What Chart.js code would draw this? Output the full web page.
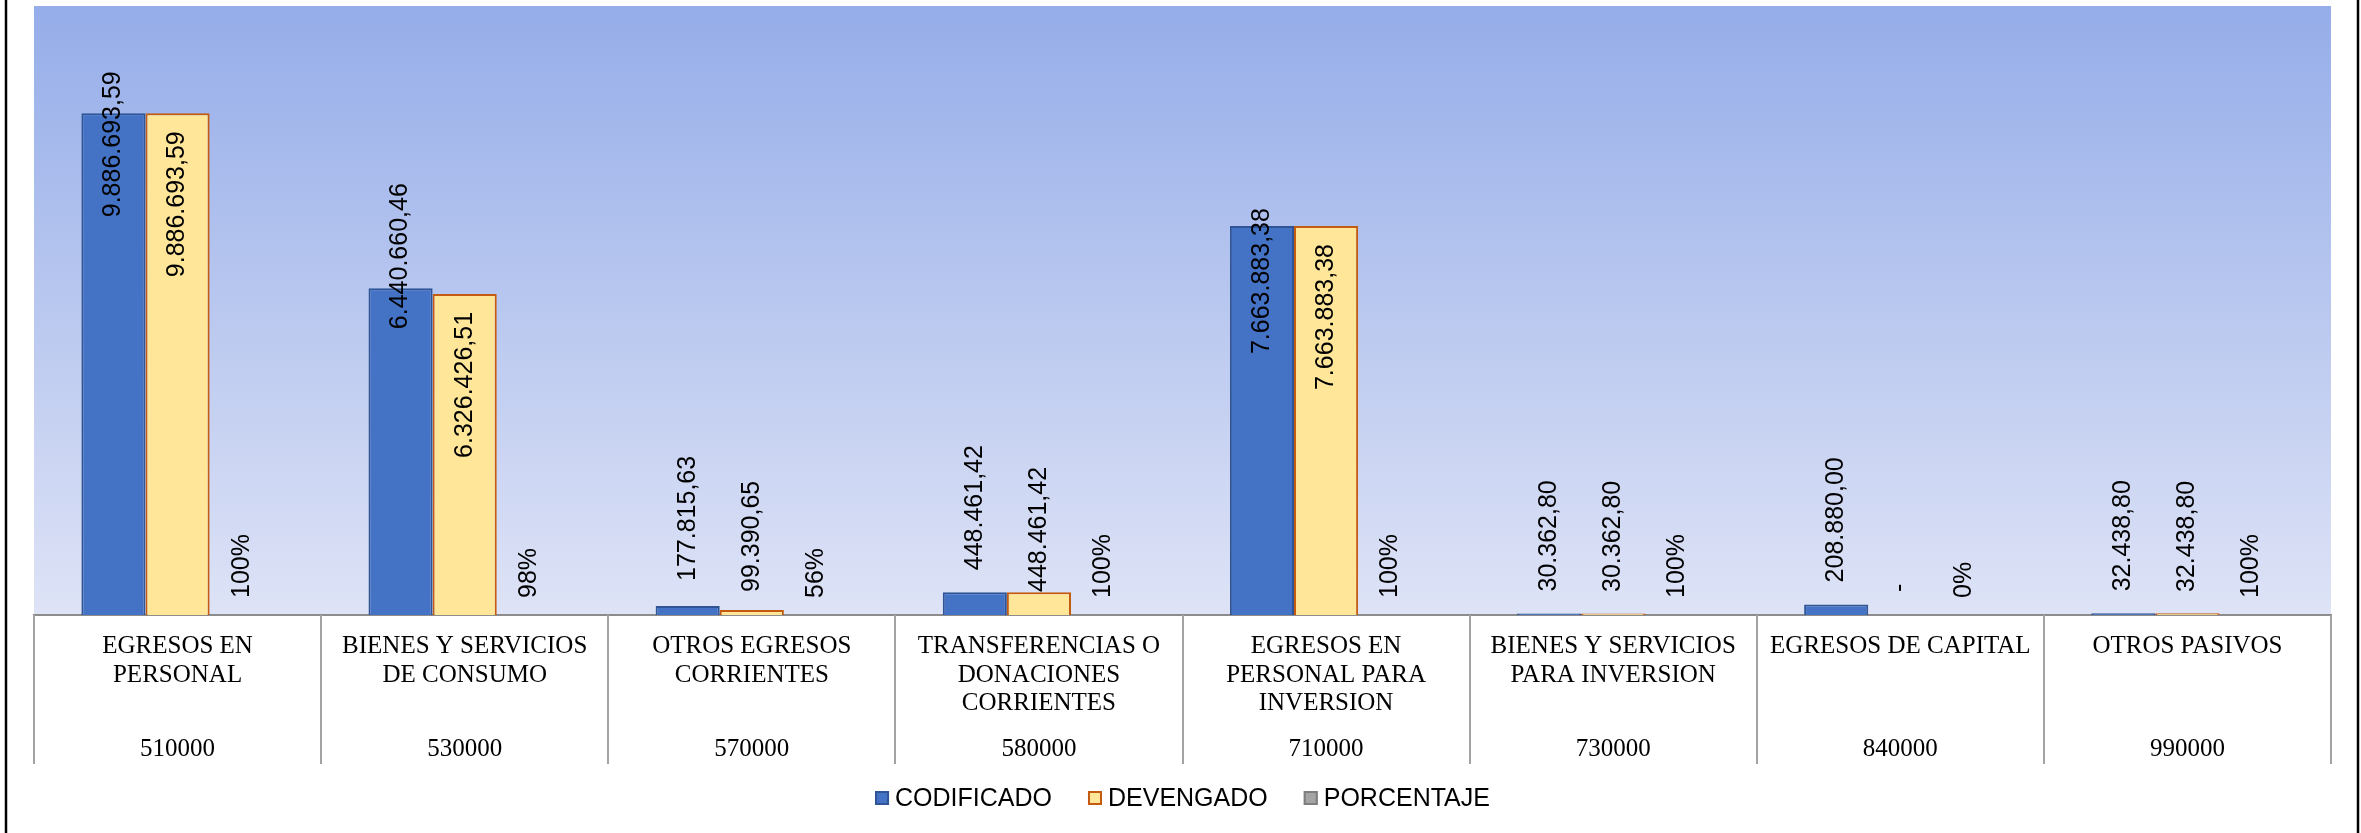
<!DOCTYPE html>
<html>
<head>
<meta charset="utf-8">
<script src="https://cdn.jsdelivr.net/npm/chart.js@4.4.1/dist/chart.umd.min.js"></script>
<style>
  html, body { margin: 0; padding: 0; background: #ffffff; }
  #wrap { width: 2361px; height: 833px; position: relative; }
</style>
</head>
<body>
<div id="wrap"><canvas id="c" width="2361" height="833"></canvas></div>
<script>
// ---- DATA ----
const categories = [
  ['EGRESOS EN', 'PERSONAL'],
  ['BIENES Y SERVICIOS', 'DE CONSUMO'],
  ['OTROS EGRESOS', 'CORRIENTES'],
  ['TRANSFERENCIAS O', 'DONACIONES', 'CORRIENTES'],
  ['EGRESOS EN', 'PERSONAL PARA', 'INVERSION'],
  ['BIENES Y SERVICIOS', 'PARA INVERSION'],
  ['EGRESOS DE CAPITAL'],
  ['OTROS PASIVOS']
];
const codes = ['510000', '530000', '570000', '580000', '710000', '730000', '840000', '990000'];
const seriesNames = ['CODIFICADO', 'DEVENGADO', 'PORCENTAJE'];
const codificado = [9886693.59, 6440660.46, 177815.63, 448461.42, 7663883.38, 30362.80, 208880.00, 32438.80];
const devengado  = [9886693.59, 6326426.51, 99390.65, 448461.42, 7663883.38, 30362.80, 0, 32438.80];
const porcentaje = [1.00, 0.98, 0.56, 1.00, 1.00, 1.00, 0.00, 1.00];
const yMax = 12000000;

// label placement tweaks (pixels, relative to bar end) for the CODIFICADO labels
const codLabelShift = [104, 41, -25, -22, 128, -22, -22, -22];

// ---- helpers ----
function fmtNum(v) {
  const neg = v < 0; v = Math.abs(v);
  const parts = v.toFixed(2).split('.');
  const intPart = parts[0].replace(/\B(?=(\d{3})+(?!\d))/g, '.');
  return (neg ? '-' : '') + intPart + ',' + parts[1];
}

const SANS = '"Liberation Sans", Arial, sans-serif';
const SERIF = '"Liberation Serif", "Times New Roman", serif';

const bgPlugin = {
  id: 'bgPlugin',
  beforeDraw(chart) {
    const { ctx, chartArea: a } = chart;
    ctx.save();
    ctx.fillStyle = '#ffffff';
    ctx.fillRect(0, 0, chart.width, chart.height);
    const g = ctx.createLinearGradient(0, a.top, 0, a.bottom);
    g.addColorStop(0, '#95ADE9');
    g.addColorStop(1, '#DEE3F6');
    ctx.fillStyle = g;
    ctx.fillRect(a.left, a.top, a.right - a.left, a.bottom - a.top);
    ctx.restore();
  },
  afterDraw(chart) {
    const { ctx } = chart;
    ctx.save();
    ctx.strokeStyle = '#000000';
    ctx.lineWidth = 2.5;
    ctx.beginPath();
    ctx.moveTo(6, 0); ctx.lineTo(6, chart.height);
    ctx.moveTo(chart.width - 3, 0); ctx.lineTo(chart.width - 3, chart.height);
    ctx.stroke();
    ctx.restore();
  }
};

const tablePlugin = {
  id: 'tablePlugin',
  afterDraw(chart) {
    const xs = chart.scales.x, x2 = chart.scales.x2;
    const n = categories.length;
    const { ctx } = chart;
    ctx.save();
    ctx.strokeStyle = '#A3A3A3';
    ctx.lineWidth = 2;
    ctx.beginPath();
    for (let i = 0; i <= n; i++) {
      const xb = Math.round(xs.left + i * (xs.width / n));
      ctx.moveTo(xb, xs.top);
      ctx.lineTo(xb, x2.bottom);
    }
    ctx.stroke();
    ctx.restore();
  }
};

const labelPlugin = {
  id: 'labelPlugin',
  afterDatasetsDraw(chart) {
    const { ctx } = chart;
    ctx.save();
    ctx.font = '25px ' + SANS;
    ctx.fillStyle = '#000000';
    ctx.textBaseline = 'middle';
    chart.data.datasets.forEach((ds, di) => {
      const meta = chart.getDatasetMeta(di);
      meta.data.forEach((bar, j) => {
        const v = ds.data[j];
        let text;
        if (di === 2) text = Math.round(v * 100) + '%';
        else text = v === 0 ? '-' : fmtNum(v);
        const w = ctx.measureText(text).width;
        let y, align;
        if (di === 0) {
          y = bar.y + codLabelShift[j];
          align = 'left';
        } else if (di === 1) {
          if (bar.base - bar.y > w + 40) { y = bar.y + 18; align = 'right'; }
          else { y = bar.base - 23; align = 'left'; }
        } else {
          y = bar.base - 17;
          align = 'left';
        }
        ctx.save();
        ctx.translate(bar.x, y);
        ctx.rotate(-Math.PI / 2);
        ctx.textAlign = align;
        ctx.fillText(text, 0, 0);
        ctx.restore();
      });
    });
    ctx.restore();
  }
};

const legendPlugin = {
  id: 'legendPlugin',
  afterDraw(chart) {
    const { ctx, chartArea: a } = chart;
    const box = 14, gapText = 6, gapItem = 36, cy = 798;
    ctx.save();
    ctx.font = '25px ' + SANS;
    ctx.textBaseline = 'middle';
    ctx.textAlign = 'left';
    const items = chart.data.datasets.map(ds => ({ ds, w: ctx.measureText(ds.label).width }));
    let total = 0;
    items.forEach((it, i) => { total += box + gapText + it.w + (i < items.length - 1 ? gapItem : 0); });
    let x = (a.left + a.right) / 2 - total / 2;
    items.forEach(it => {
      ctx.fillStyle = it.ds.backgroundColor;
      ctx.fillRect(x, cy - box / 2, box, box);
      ctx.strokeStyle = it.ds.borderColor;
      ctx.lineWidth = 2;
      ctx.strokeRect(x + 1, cy - box / 2 + 1, box - 2, box - 2);
      ctx.fillStyle = '#000000';
      ctx.fillText(it.ds.label, x + box + gapText, cy + 1);
      x += box + gapText + it.w + gapItem;
    });
    ctx.restore();
  }
};

const tickFont = { family: SERIF, size: 25, lineHeight: 1.15 };

new Chart(document.getElementById('c'), {
  type: 'bar',
  data: {
    labels: categories,
    datasets: [
      { label: seriesNames[0], data: codificado, backgroundColor: '#4472C4', borderColor: '#2F5597', borderWidth: 2 },
      { label: seriesNames[1], data: devengado, backgroundColor: '#FFE699', borderColor: '#C55A11', borderWidth: 2 },
      { label: seriesNames[2], data: porcentaje, backgroundColor: '#A5A5A5', borderColor: '#7F7F7F', borderWidth: 2 }
    ]
  },
  options: {
    responsive: false,
    animation: false,
    categoryPercentage: 0.67,
    barPercentage: 1.0,
    layout: { padding: { left: 34, right: 30, top: 6, bottom: 69 } },
    plugins: {
      legend: { display: false },
      tooltip: { enabled: false }
    },
    scales: {
      y: { display: false, min: 0, max: yMax },
      x: {
        type: 'category',
        position: 'bottom',
        offset: true,
        grid: { display: false, drawTicks: false },
        border: { display: true, color: '#8C8C8C', width: 2 },
        ticks: { font: tickFont, color: '#000000', padding: 17, autoSkip: false, maxRotation: 0, minRotation: 0 }
      },
      x2: {
        type: 'category',
        labels: codes,
        position: 'bottom',
        offset: true,
        grid: { display: false, drawTicks: false },
        border: { display: false },
        ticks: { font: tickFont, color: '#000000', padding: 0, autoSkip: false, maxRotation: 0, minRotation: 0 }
      }
    }
  },
  plugins: [bgPlugin, tablePlugin, labelPlugin, legendPlugin]
});
</script>
</body>
</html>
